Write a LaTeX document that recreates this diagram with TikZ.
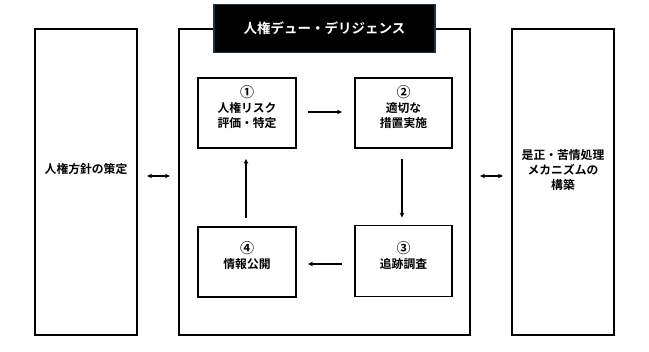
\documentclass[tikz,border=0pt]{standalone}
\usepackage{fontspec}
\setmainfont{Noto Sans CJK JP}[BoldFont={Noto Sans CJK JP Bold}]
\usetikzlibrary{arrows.meta}
\definecolor{titleedge}{RGB}{30,50,65}
\newcommand{\numc}[1]{{\fontsize{14}{15}\selectfont #1}}
\tikzset{
  outerbox/.style={draw=black, line width=1.3pt},
  innerbox/.style={draw=black, line width=1.8pt},
  txt/.style={font=\bfseries\fontsize{11.8}{15}\selectfont, align=center, inner sep=0pt},
  flow/.style={-{Stealth[length=5pt,width=4.5pt]}, line width=1.3pt},
  both/.style={{Stealth[length=5pt,width=4.5pt]}-{Stealth[length=5pt,width=4.5pt]}, line width=1.2pt},
}
\begin{document}
\begin{tikzpicture}[x=1pt,y=-1pt]
\useasboundingbox (0,0) rectangle (649,352);
% outer boxes
\draw[outerbox] (35,29) rectangle (137,335);
\draw[outerbox] (179,29) rectangle (470,335);
\draw[outerbox] (512,29) rectangle (614,335);
\node[inner sep=0pt] (Lr) at (137,176) {};
\node[inner sep=0pt] (Ml) at (179,176) {};
\node[inner sep=0pt] (Mr) at (470,176) {};
\node[inner sep=0pt] (Rl) at (512,176) {};
\node[txt] (lt) at (86,169) {人権方針の策定};
\node[txt] (rt) at (563,170) {是正・苦情処理\\メカニズムの\\構築};
\draw[both] ([xshift=10pt]Lr.center) -- ([xshift=-9pt]Ml.center);
\draw[both] ([xshift=10pt]Mr.center) -- ([xshift=-9pt]Rl.center);
% title
\node[draw=titleedge, fill=black, line width=1.3pt, minimum width=221pt, minimum height=48pt, inner sep=0pt,
  text=white, font=\bfseries\fontsize{13.5}{15}\selectfont] (title) at (324.5,28.5) {人権デュー・デリジェンス};
% inner boxes
\node[innerbox, minimum width=98pt, minimum height=70pt, inner sep=0pt] (b1) at (247,113) {};
\node[innerbox, minimum width=97pt, minimum height=70pt, inner sep=0pt] (b2) at (403.5,113) {};
\node[innerbox, minimum width=97pt, minimum height=71pt, inner sep=0pt] (b3) at (403.5,261) {};
\node[innerbox, minimum width=98pt, minimum height=70pt, inner sep=0pt] (b4) at (247,262) {};
\node[txt] (t1) at (247,107) {\numc{①}\\人権リスク\\評価・特定};
\node[txt] (t2) at (403.5,107) {\numc{②}\\適切な\\措置実施};
\node[txt] (t3) at (403.5,255.5) {\numc{③}\\追跡調査};
\node[txt] (t4) at (247,255.5) {\numc{④}\\情報公開};
% flow arrows
\draw[flow] ([xshift=11pt]b1.east |- 0,112) -- ([xshift=-12pt]b2.west |- 0,112);
\draw[flow] ([yshift=-10pt]b2.south -| 402,0) -- ([yshift=7pt]b3.north -| 402,0);
\draw[flow] ([xshift=-12pt]b3.west |- 0,264) -- ([xshift=11pt]b4.east |- 0,264);
\draw[flow] ([yshift=8pt]b4.north -| 246,0) -- ([yshift=-10pt]b1.south -| 246,0);
\end{tikzpicture}
\end{document}
